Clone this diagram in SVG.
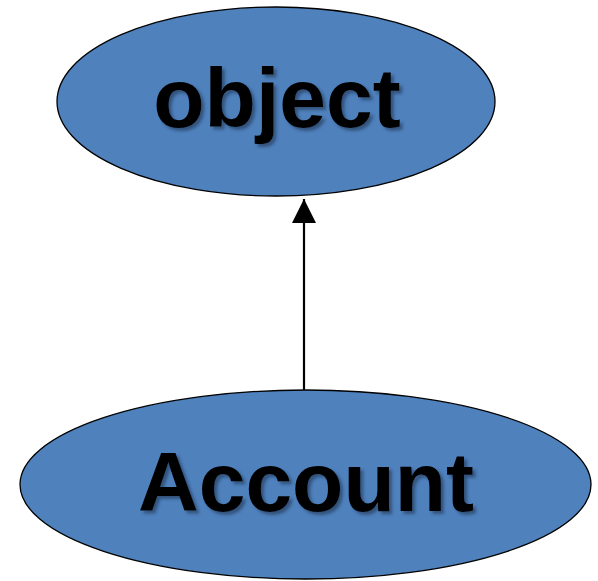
<svg xmlns="http://www.w3.org/2000/svg" width="598" height="581" viewBox="0 0 598 581">
<defs>
<style>
.node{fill:#4F81BD;stroke:#000;stroke-width:1.3}
.lbl{font-family:"Liberation Sans",Arial,sans-serif;font-weight:bold;font-size:84px;fill:#000;text-anchor:middle;filter:url(#sh)}
.edge{stroke:#000;stroke-width:2.2;fill:none}
</style>
<filter id="sh" x="-10%" y="-10%" width="130%" height="140%">
<feGaussianBlur in="SourceAlpha" stdDeviation="1.5"/>
<feOffset dx="3" dy="3" result="b"/>
<feFlood flood-color="#1f3550" flood-opacity="0.6"/>
<feComposite in2="b" operator="in"/>
<feMerge><feMergeNode/><feMergeNode in="SourceGraphic"/></feMerge>
</filter>
<marker id="arr" viewBox="0 0 24 24" markerWidth="24" markerHeight="24" refX="24" refY="12" markerUnits="userSpaceOnUse" orient="auto">
<path d="M0,0 L24,12 L0,24 Z" fill="#000"/>
</marker>
</defs>
<rect width="598" height="581" fill="#fff"/>
<g id="connectors">
<line class="edge" x1="304" y1="390" x2="304" y2="199" marker-end="url(#arr)"/>
</g>
<g id="object">
<ellipse class="node" cx="276" cy="101.5" rx="219" ry="94.5"/>
<text class="lbl" x="277" y="127">object</text>
</g>
<g id="Account">
<ellipse class="node" cx="305.5" cy="484.5" rx="285.5" ry="94.5"/>
<text class="lbl" x="306" y="511">Account</text>
</g>
</svg>
